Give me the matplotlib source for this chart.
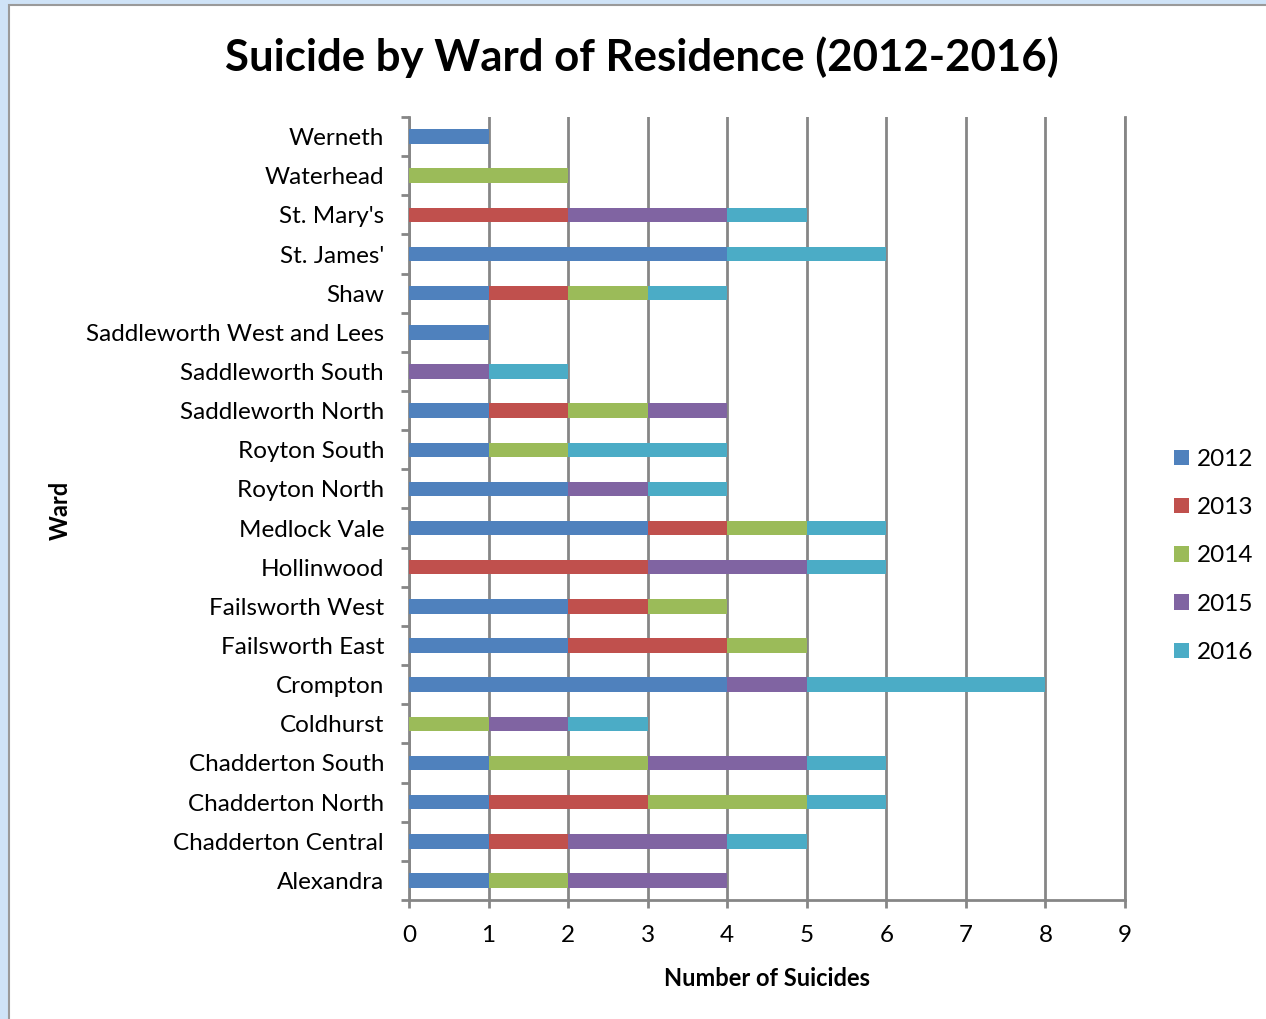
import matplotlib.pyplot as plt
from matplotlib.patches import Rectangle
import numpy as np

wards = ["Werneth", "Waterhead", "St. Mary's", "St. James'", "Shaw",
         "Saddleworth West and Lees", "Saddleworth South", "Saddleworth North",
         "Royton South", "Royton North", "Medlock Vale", "Hollinwood",
         "Failsworth West", "Failsworth East", "Crompton", "Coldhurst",
         "Chadderton South", "Chadderton North", "Chadderton Central", "Alexandra"]
years = ["2012", "2013", "2014", "2015", "2016"]

y2012 = [1, 0, 0, 4, 1, 1, 0, 1, 1, 2, 3, 0, 2, 2, 4, 0, 1, 1, 1, 1]
y2013 = [0, 0, 2, 0, 1, 0, 0, 1, 0, 0, 1, 3, 1, 2, 0, 0, 0, 2, 1, 0]
y2014 = [0, 2, 0, 0, 1, 0, 0, 1, 1, 0, 1, 0, 1, 1, 0, 1, 2, 2, 0, 1]
y2015 = [0, 0, 2, 0, 0, 0, 1, 1, 0, 1, 0, 2, 0, 0, 1, 1, 2, 0, 2, 2]
y2016 = [0, 0, 1, 2, 1, 0, 1, 0, 2, 1, 1, 1, 0, 0, 3, 1, 1, 1, 1, 0]

colors = ["#4f81bd", "#c0504d", "#9bbb59", "#8064a2", "#4bacc6"]
grid_col = "#868686"

plt.rcParams['font.family'] = ['Lato', 'DejaVu Sans']

fig = plt.figure(figsize=(12.66, 10.19), dpi=100, facecolor="#cfe3f7")
# white chart area with grey frame, kept behind the axes
fig.patches.append(Rectangle((9 / 1266, -0.01), 1.0, (1019 - 5) / 1019 + 0.01,
                             transform=fig.transFigure, facecolor="white",
                             edgecolor="#9a9a9a", linewidth=1.5, zorder=-10))

ax = fig.add_axes([409 / 1266, 1 - 900 / 1019, (1125 - 409) / 1266, (900 - 117) / 1019])
ax.set_facecolor("none")

pos = np.arange(len(wards))[::-1]
left = np.zeros(len(wards))
for name, vals, c in zip(years, [y2012, y2013, y2014, y2015, y2016], colors):
    vals = np.array(vals, dtype=float)
    ax.barh(pos, vals, left=left, height=0.37, color=c, label=name, zorder=3)
    left += vals

ax.set_xlim(0, 9)
ax.set_ylim(-0.5, len(wards) - 0.5)
ax.set_xticks(range(10))
ax.set_yticks(pos)
ax.set_yticklabels(wards)
ax.set_yticks(np.arange(-0.5, len(wards)), minor=True)
ax.tick_params(axis="y", which="major", length=0, pad=18, labelsize=17.5)
ax.tick_params(axis="y", which="minor", length=6, width=2, color=grid_col)
ax.tick_params(axis="x", length=6, width=2, color=grid_col, labelsize=17.5, pad=12)

ax.grid(axis="x", color=grid_col, linewidth=2, zorder=1)
ax.spines["top"].set_visible(False)
for s in ["left", "bottom", "right"]:
    ax.spines[s].set_color(grid_col)
    ax.spines[s].set_linewidth(2)

ax.set_xlabel("Number of Suicides", fontsize=17, fontweight="bold", labelpad=15)
fig.text(60 / 1266, 1 - 510 / 1019, "Ward", rotation=90, fontsize=17,
         fontweight="bold", ha="center", va="center")
fig.text(642 / 1266, 1 - 57 / 1019, "Suicide by Ward of Residence (2012-2016)",
         fontsize=31.5, fontweight="bold", ha="center", va="center")

fig.legend(loc="center left", bbox_to_anchor=(1174 / 1266, 1 - 556 / 1019),
           frameon=False, fontsize=17.5, handlelength=0.6, handleheight=0.6,
           labelspacing=1.12, handletextpad=0.35, borderpad=0, borderaxespad=0)

fig.savefig("out.png", dpi=100, facecolor=fig.get_facecolor())
